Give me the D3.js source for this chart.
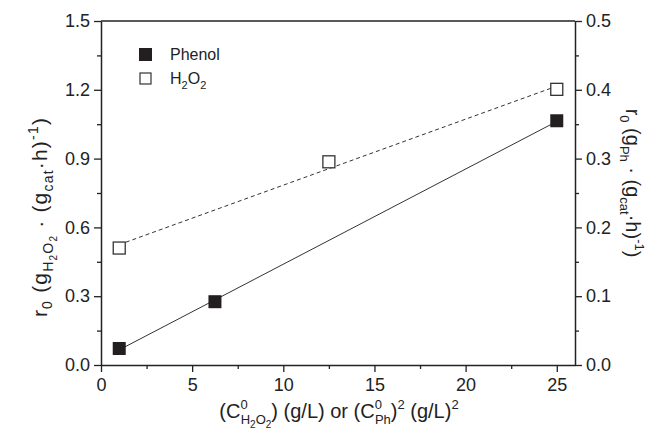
<!DOCTYPE html>
<html>
<head>
<meta charset="utf-8">
<script src="https://cdn.jsdelivr.net/npm/d3@7.9.0/dist/d3.min.js"></script>
<style>
  body { margin: 0; background: #fff; }
  text { font-family: "Liberation Sans", Arial, sans-serif; fill: #222; }
  .axis path, .axis line { stroke: #222; }
  .axis text { font-size: 18px; font-family: "Liberation Sans", Arial, sans-serif; fill: #222; }
</style>
</head>
<body>
<svg id="chart" width="649" height="440"></svg>
<script>
// data
const phenolX = [1, 6.25, 25];
const phenolY = [0.024, 0.092, 0.355];   // right axis
const h2o2X = [1, 12.5, 25];
const h2o2Y = [0.51, 0.886, 1.202];      // left axis
const phenolFitX = [1, 25];
const phenolFitY = [0.022, 0.354];
const h2o2FitX = [1, 25];
const h2o2FitY = [0.525, 1.216];
const xTicks = [0, 5, 10, 15, 20, 25];
const xMinor = [2.5, 7.5, 12.5, 17.5, 22.5];
const leftTicks = [0, 0.3, 0.6, 0.9, 1.2, 1.5];
const leftMinor = [0.15, 0.45, 0.75, 1.05, 1.35];
const rightTicks = [0, 0.1, 0.2, 0.3, 0.4, 0.5];
const rightMinor = [0.05, 0.15, 0.25, 0.35, 0.45];

const svg = d3.select('#chart');
const x = d3.scaleLinear().domain([0, 26]).range([101, 575]);
const yL = d3.scaleLinear().domain([0, 1.5]).range([365, 21]);
const yR = d3.scaleLinear().domain([0, 0.5]).range([365, 21]);
const ink = '#222';

// frame top
svg.append('line').attr('x1', x(0)).attr('x2', x(26)).attr('y1', yL(1.5)).attr('y2', yL(1.5))
  .attr('stroke', ink).attr('stroke-width', 1.5);

function drawAxis(axis, tr) {
  const g = svg.append('g').attr('class', 'axis').attr('transform', tr);
  g.call(axis);
  g.select('.domain').attr('stroke-width', 1.5);
  g.selectAll('.tick line').attr('stroke-width', 1.3);
  return g;
}
function drawMinor(axis, tr) {
  svg.append('g').attr('class', 'axis').attr('transform', tr)
    .call(axis.tickSize(4).tickFormat(''))
    .call(g => g.select('.domain').remove())
    .selectAll('line').attr('stroke-width', 1.3);
}

// bottom
drawAxis(d3.axisBottom(x).tickValues(xTicks).tickSize(7).tickSizeOuter(0).tickPadding(6).tickFormat(d3.format('d')), `translate(0,${yL(0)})`);
drawMinor(d3.axisBottom(x).tickValues(xMinor), `translate(0,${yL(0)})`);

// left
drawAxis(d3.axisLeft(yL).tickValues(leftTicks).tickSize(7).tickSizeOuter(0).tickPadding(4).tickFormat(d3.format('.1f')), `translate(${x(0)},0)`);
drawMinor(d3.axisLeft(yL).tickValues(leftMinor), `translate(${x(0)},0)`);

// right
drawAxis(d3.axisRight(yR).tickValues(rightTicks).tickSize(7).tickSizeOuter(0).tickPadding(4).tickFormat(d3.format('.1f')), `translate(${x(26)},0)`);
drawMinor(d3.axisRight(yR).tickValues(rightMinor), `translate(${x(26)},0)`);

// fit lines
const lineL = d3.line().x(d => x(d[0])).y(d => yL(d[1]));
const lineR = d3.line().x(d => x(d[0])).y(d => yR(d[1]));
svg.append('path').attr('d', lineL(d3.zip(h2o2FitX, h2o2FitY)))
  .attr('fill', 'none').attr('stroke', '#333').attr('stroke-width', 1).attr('stroke-dasharray', '4,3');
svg.append('path').attr('d', lineR(d3.zip(phenolFitX, phenolFitY)))
  .attr('fill', 'none').attr('stroke', '#333').attr('stroke-width', 1);

// markers
const s = 12;
svg.selectAll('.h2o2').data(d3.zip(h2o2X, h2o2Y)).join('rect')
  .attr('x', d => x(d[0]) - s / 2).attr('y', d => yL(d[1]) - s / 2)
  .attr('width', s).attr('height', s)
  .attr('fill', '#fff').attr('stroke', '#333').attr('stroke-width', 1.3);
svg.selectAll('.phenol').data(d3.zip(phenolX, phenolY)).join('rect')
  .attr('x', d => x(d[0]) - s / 2 - 0.5).attr('y', d => yR(d[1]) - s / 2 - 0.5)
  .attr('width', s + 1).attr('height', s + 1)
  .attr('fill', '#231f20');

// legend
svg.append('rect').attr('x', 139).attr('y', 48).attr('width', 13).attr('height', 13).attr('fill', '#231f20');
svg.append('rect').attr('x', 140).attr('y', 73).attr('width', 11).attr('height', 11)
  .attr('fill', '#fff').attr('stroke', '#333').attr('stroke-width', 1.2);
svg.append('text').attr('x', 170).attr('y', 60).attr('font-size', 16).text('Phenol');
const lg = svg.append('text').attr('x', 170).attr('y', 84).attr('font-size', 16);
lg.append('tspan').text('H');
lg.append('tspan').attr('font-size', 11).attr('dy', 5).text('2');
lg.append('tspan').attr('dy', -5).text('O');
lg.append('tspan').attr('font-size', 11).attr('dy', 5).text('2');

// left title
const lt = svg.append('text').attr('font-size', 21).attr('text-anchor', 'middle')
  .attr('letter-spacing', 1.2)
  .attr('transform', 'translate(47,217) rotate(-90)');
lt.append('tspan').text('r');
lt.append('tspan').attr('font-size', 14).attr('dy', 5).text('0');
lt.append('tspan').attr('dy', -5).text(' (g');
lt.append('tspan').attr('font-size', 14).attr('dy', 6).text('H');
lt.append('tspan').attr('font-size', 10).attr('dy', 4).text('2');
lt.append('tspan').attr('font-size', 14).attr('dy', -4).text('O');
lt.append('tspan').attr('font-size', 10).attr('dy', 4).text('2');
lt.append('tspan').attr('dy', -10).text(' · (g');
lt.append('tspan').attr('font-size', 14).attr('dy', 6).text('cat');
lt.append('tspan').attr('dy', -6).text('·h)');
lt.append('tspan').attr('font-size', 14).attr('dy', -9).text('-1');
lt.append('tspan').attr('dy', 9).text(')');

// right title
const rt = svg.append('text').attr('font-size', 20).attr('text-anchor', 'middle')
  .attr('transform', 'translate(626,183) rotate(90)');
rt.append('tspan').text('r');
rt.append('tspan').attr('font-size', 13).attr('dy', 6).text('0');
rt.append('tspan').attr('dy', -6).text(' (g');
rt.append('tspan').attr('font-size', 13).attr('dy', 6).text('Ph');
rt.append('tspan').attr('dy', -6).text(' · (g');
rt.append('tspan').attr('font-size', 13).attr('dy', 6).text('cat');
rt.append('tspan').attr('dy', -6).text('·h)');
rt.append('tspan').attr('font-size', 13).attr('dy', -9).text('-1');
rt.append('tspan').attr('dy', 9).text(')');

// bottom title
const bt = svg.append('text').attr('font-size', 20).attr('text-anchor', 'middle')
  .attr('x', 339).attr('y', 418);
bt.append('tspan').text('(C');
bt.append('tspan').attr('font-size', 13).attr('dy', -9).text('0');
bt.append('tspan').attr('font-size', 13).attr('dx', -7).attr('dy', 15).text('H');
bt.append('tspan').attr('font-size', 10).attr('dy', 4).text('2');
bt.append('tspan').attr('font-size', 13).attr('dy', -4).text('O');
bt.append('tspan').attr('font-size', 10).attr('dy', 4).text('2');
bt.append('tspan').attr('dy', -10).text(') (g/L) or (C');
bt.append('tspan').attr('font-size', 13).attr('dy', -9).text('0');
bt.append('tspan').attr('font-size', 13).attr('dx', -7).attr('dy', 15).text('Ph');
bt.append('tspan').attr('dy', -6).text(')');
bt.append('tspan').attr('font-size', 13).attr('dy', -9).text('2');
bt.append('tspan').attr('dy', 9).text(' (g/L)');
bt.append('tspan').attr('font-size', 13).attr('dy', -9).text('2');
</script>
</body>
</html>
